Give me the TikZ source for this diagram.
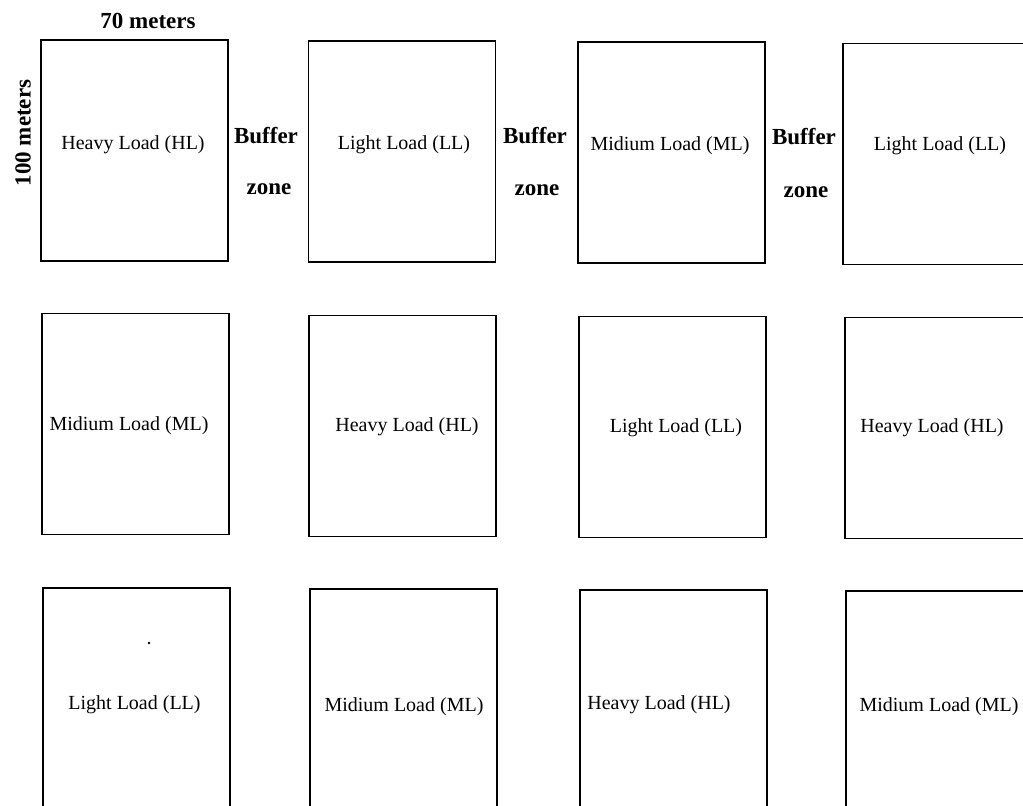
\documentclass[tikz,border=0pt]{standalone}
\usepackage{fontspec}
\setmainfont{Liberation Serif}
\usepackage{tikz}

\begin{document}
\begin{tikzpicture}[
  x=0.5pt, y=-0.5pt,
  plot/.style={rectangle, draw, line width=0.8pt, minimum width=93.5pt, minimum height=110.5pt, inner sep=0pt},
  load/.style={font=\fontsize{10}{12}\selectfont, yshift=-1pt},
  dim/.style={font=\fontsize{11.5}{14}\selectfont\bfseries}
]
\useasboundingbox (0,0) rectangle (1023,805);
\clip (0,0) rectangle (1023,805);

% first row
\node[plot] (a1) at (134.5,150.5) {};
\node[plot] (b1) at (402,151.5) {};
\node[plot] (c1) at (671.5,152.5) {};
\node[plot] (d1) at (936.5,154) {};
\node[load] (la1) at (133,143) {Heavy Load (HL)};
\node[load] (lb1) at (404,143) {Light Load (LL)};
\node[load] (lc1) at (670,144) {Midium Load (ML)};
\node[load] (ld1) at (940,144) {Light Load (LL)};

% buffer zones
\node[dim] (buf1) at (266,136) {Buffer};
\node[dim] (zone1) at (269,189) {zone};
\node[dim] (buf2) at (535,136) {Buffer};
\node[dim] (zone2) at (537,190) {zone};
\node[dim] (buf3) at (804,137) {Buffer};
\node[dim] (zone3) at (806,192) {zone};

% dimensions
\node[dim] (width) at (148,21) {70 meters};
\node[dim, rotate=90] (height) at (23,133) {100 meters};

% second row
\node[plot] (a2) at (135.5,424) {};
\node[plot] (b2) at (402.5,426) {};
\node[plot] (c2) at (672.5,427) {};
\node[plot] (d2) at (938.5,428) {};
\node[load] (la2) at (129,424) {Midium Load (ML)};
\node[load] (lb2) at (407,425) {Heavy Load (HL)};
\node[load] (lc2) at (676,426) {Light Load (LL)};
\node[load] (ld2) at (932,426) {Heavy Load (HL)};

% third row
\node[plot] (a3) at (136.5,698.5) {};
\node[plot] (b3) at (403.5,699.5) {};
\node[plot] (c3) at (673.5,700.5) {};
\node[plot] (d3) at (939.5,701.5) {};
\node[load] (la3) at (134.5,703) {Light Load (LL)};
\node[load] (lb3) at (404,705) {Midium Load (ML)};
\node[load] (lc3) at (659,703) {Heavy Load (HL)};
\node[load] (ld3) at (939,705) {Midium Load (ML)};
\fill (149,643) circle (0.7pt);
\end{tikzpicture}
\end{document}
